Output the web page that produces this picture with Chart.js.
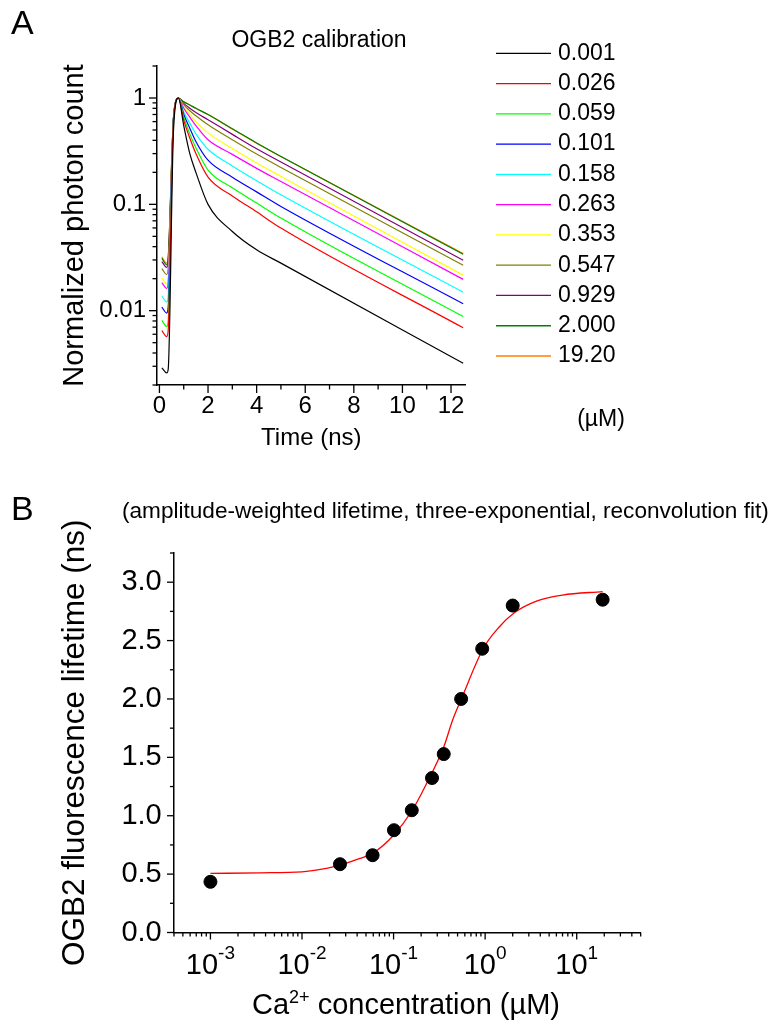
<!DOCTYPE html>
<html>
<head>
<meta charset="utf-8">
<script src="https://cdn.jsdelivr.net/npm/chart.js@4.4.0/dist/chart.umd.min.js"></script>
<style>
html, body { margin: 0; padding: 0; background: #fff; }
#wrap { position: relative; width: 771px; height: 1023px; overflow: hidden;
        font-family: "Liberation Sans", Arial, sans-serif; color: #000; }
canvas { position: absolute; left: 0; top: 0; }
.lbl { position: absolute; white-space: nowrap; line-height: 1; }
.c { transform: translate(-50%, -50%); }
.v { transform: translateY(-50%); }
</style>
</head>
<body>
<div id="wrap">
  <canvas id="chartA" width="771" height="1023"></canvas>
  <canvas id="chartB" width="771" height="1023"></canvas>
  <div class="lbl" style="left:11px;top:5px;font-size:34px">A</div>
  <div class="lbl c" style="left:319px;top:39px;font-size:23px">OGB2 calibration</div>
  <div class="lbl c" style="left:601px;top:418px;font-size:23px">(µM)</div>
  <div class="lbl" style="left:11px;top:491px;font-size:34px">B</div>
  <div class="lbl v" style="left:122px;top:511px;font-size:22.6px">(amplitude-weighted lifetime, three-exponential, reconvolution fit)</div>
  <div class="lbl c" style="left:406px;top:1004px;font-size:29px">Ca<span style="font-size:18px;position:relative;top:-11px">2+</span> concentration (µM)</div>
</div>
<script>
const FONT = '"Liberation Sans", Arial, sans-serif';

// ---- panel A: normalized decays, one array per Ca2+ concentration ----
const timeNs = [0.1, 0.3, 0.36, 0.58, 0.78, 1, 1.25, 1.5, 2, 3, 4, 5, 12.5];
const caLabels = ['0.001', '0.026', '0.059', '0.101', '0.158', '0.263', '0.353', '0.547', '0.929', '2.000', '19.20'];
const caColors = ['#000000', '#ff0000', '#00ff00', '#0000ff', '#00ffff', '#ff00ff',
                  '#ffff00', '#808000', '#800080', '#008000', '#ff8000'];

const d0001 = [0.0029, 0.0026, 0.0028, 0.50, 1, 0.55, 0.30, 0.20, 0.100, 0.0556, 0.0374, 0.0280, 0.0032];
const d0026 = [0.0065, 0.0057, 0.0065, 0.62, 1, 0.62, 0.42, 0.30, 0.180, 0.120, 0.085, 0.0598, 0.0069];
const d0059 = [0.0081, 0.0071, 0.0081, 0.64, 1, 0.66, 0.46, 0.34, 0.210, 0.143, 0.103, 0.0743, 0.0088];
const d0101 = [0.0108, 0.0095, 0.0108, 0.65, 1, 0.70, 0.52, 0.39, 0.260, 0.180, 0.131, 0.0955, 0.0116];
const d0158 = [0.0137, 0.0121, 0.0137, 0.65, 1, 0.74, 0.58, 0.46, 0.330, 0.230, 0.167, 0.123, 0.0149];
const d0263 = [0.0184, 0.0162, 0.0184, 0.65, 1, 0.80, 0.66, 0.55, 0.405, 0.295, 0.218, 0.164, 0.0197];
const d0353 = [0.0203, 0.0179, 0.0203, 0.65, 1, 0.82, 0.70, 0.60, 0.470, 0.335, 0.245, 0.183, 0.0216];
const d0547 = [0.0249, 0.0219, 0.0249, 0.65, 1, 0.86, 0.76, 0.68, 0.560, 0.405, 0.297, 0.222, 0.0267];
const d0929 = [0.0290, 0.0255, 0.0290, 0.65, 1, 0.89, 0.80, 0.73, 0.625, 0.455, 0.333, 0.250, 0.0298];
const d2000 = [0.0310, 0.0270, 0.0310, 0.65, 1, 0.92, 0.86, 0.80, 0.700, 0.515, 0.378, 0.282, 0.0339];
const d1920 = [0.0320, 0.0280, 0.0320, 0.65, 1, 0.92, 0.86, 0.80, 0.700, 0.510, 0.375, 0.282, 0.0344];
const decays = [d0001, d0026, d0059, d0101, d0158, d0263, d0353, d0547, d0929, d2000, d1920];

const timeTicks = [0, 1, 2, 3, 4, 5, 6, 7, 8, 9, 10, 11, 12];
const decayTicks = [];
[0.001, 0.01, 0.1, 1].forEach(dec => {
    for (let k = 1; k <= 9; k++) {
        const v = +(k * dec).toPrecision(3);
        if (v >= 0.002 && v <= 2) decayTicks.push({value: v, mj: k === 1});
    }
});

// ---- panel B: lifetime vs Ca2+ ----
const caConc   = [0.001, 0.026, 0.059, 0.101, 0.158, 0.263, 0.353, 0.547, 0.929, 2.0, 19.2];
const lifetime = [0.434, 0.585, 0.662, 0.876, 1.047, 1.323, 1.528, 2.00, 2.43, 2.80, 2.85];
const fitConc     = [0.001, 0.0035, 0.01, 0.0185, 0.026, 0.043, 0.06, 0.1, 0.16, 0.229, 0.353, 0.44, 0.55, 0.95, 1.4, 2.1, 3.7, 7, 19.2];
const fitLifetime = [0.506, 0.511, 0.520, 0.549, 0.577, 0.634, 0.682, 0.833, 1.047, 1.275, 1.588, 1.816, 2.0, 2.43, 2.61, 2.74, 2.84, 2.89, 2.92];
const concDecades = [-3, -2, -1, 0, 1];
const lifeTicks = [0, 0.25, 0.5, 0.75, 1, 1.25, 1.5, 1.75, 2, 2.25, 2.5, 2.75, 3, 3.25];

const concTicks = [];
[-4, -3, -2, -1, 0, 1].forEach(e => {
    for (let k = 1; k <= 9; k++) {
        const v = +(k * Math.pow(10, e)).toPrecision(3);
        if (v >= 4e-4 && v <= 50) concTicks.push({value: v, mj: k === 1});
    }
});

// outward tick marks, long for labelled ticks, short for the rest
const tickMarks = {
    id: 'tickMarks',
    afterDraw(chart, args, opts) {
        const ctx = chart.ctx;
        ctx.save();
        ctx.strokeStyle = '#000';
        ctx.lineWidth = 1.3;
        ['x', 'y'].forEach(id => {
            const sc = chart.scales[id];
            sc.ticks.forEach(t => {
                const len = t.mj ? opts.major : opts.minor;
                const p = sc.getPixelForValue(t.value);
                ctx.beginPath();
                if (id === 'x') { ctx.moveTo(p, sc.top); ctx.lineTo(p, sc.top + len); }
                else { ctx.moveTo(sc.right, p); ctx.lineTo(sc.right - len, p); }
                ctx.stroke();
            });
        });
        ctx.restore();
    }
};

const decayLegend = {
    id: 'decayLegend',
    afterDraw(chart, args, opts) {
        const ctx = chart.ctx;
        ctx.save();
        ctx.font = '23px ' + FONT;
        ctx.textBaseline = 'middle';
        ctx.fillStyle = '#000';
        chart.data.datasets.forEach((ds, i) => {
            const y = opts.y0 + i * opts.dy;
            ctx.strokeStyle = ds.borderColor;
            ctx.lineWidth = 1.3;
            ctx.beginPath();
            ctx.moveTo(opts.x0, y);
            ctx.lineTo(opts.x1, y);
            ctx.stroke();
            ctx.fillText(ds.label, opts.tx, y);
        });
        ctx.restore();
    }
};

const powerLabels = {
    id: 'powerLabels',
    afterDraw(chart, args, opts) {
        const ctx = chart.ctx;
        const xs = chart.scales.x;
        ctx.save();
        ctx.fillStyle = '#000';
        ctx.textBaseline = 'middle';
        concDecades.forEach(e => {
            const p = xs.getPixelForValue(Math.pow(10, e));
            ctx.font = '29px ' + FONT;
            const wb = ctx.measureText('10').width;
            ctx.font = '19px ' + FONT;
            const we = ctx.measureText(String(e)).width;
            const left = p - (wb + we) / 2;
            ctx.font = '29px ' + FONT;
            ctx.fillText('10', left, opts.y);
            ctx.font = '19px ' + FONT;
            ctx.fillText(String(e), left + wb, opts.y - 12);
        });
        ctx.restore();
    }
};

const axisStyle = {
    grid: { display: false, drawTicks: false },
    border: { display: true, color: '#000', width: 1.5 }
};

new Chart(document.getElementById('chartA'), {
    type: 'line',
    data: {
        datasets: decays.map((arr, k) => ({
            label: caLabels[k],
            data: timeNs.map((t, i) => ({x: t, y: arr[i]})),
            borderColor: caColors[k],
            borderWidth: 1.2,
            pointRadius: 0,
            fill: false,
            cubicInterpolationMode: 'monotone'
        }))
    },
    options: {
        responsive: false,
        animation: false,
        devicePixelRatio: 1,
        layout: { padding: { left: 0, top: 66, right: 305.4, bottom: 568 } },
        plugins: {
            legend: { display: false },
            tooltip: { enabled: false },
            tickMarks: { major: 8, minor: 4.5 },
            decayLegend: { x0: 496, x1: 551, tx: 558, y0: 53.3, dy: 30.27 }
        },
        scales: {
            x: {
                type: 'linear', min: -0.1, max: 12.6,
                afterFit: s => { s.height = 70; },
                afterBuildTicks: s => { s.ticks = timeTicks.map(v => ({value: v, mj: v % 2 === 0})); },
                ticks: {
                    autoSkip: false, maxRotation: 0, padding: 6.6, color: '#000',
                    font: { family: FONT, size: 24 },
                    callback: (v, i, t) => t[i].mj ? String(v) : ''
                },
                title: { display: true, text: 'Time (ns)', color: '#000',
                         font: { family: FONT, size: 24 }, padding: { top: 0, bottom: 2.6 } },
                ...axisStyle
            },
            y: {
                type: 'logarithmic', min: 0.002, max: 2,
                afterFit: s => { s.width = 157; },
                afterBuildTicks: s => { s.ticks = decayTicks.map(t => ({...t})); },
                ticks: {
                    autoSkip: false, padding: 11, color: '#000',
                    font: { family: FONT, size: 24 },
                    callback: (v, i, t) => t[i].mj ? String(v) : ''
                },
                title: { display: true, text: 'Normalized photon count', color: '#000',
                         font: { family: FONT, size: 29 }, padding: { top: 57.6, bottom: 0 } },
                ...axisStyle
            }
        }
    },
    plugins: [tickMarks, decayLegend]
});

new Chart(document.getElementById('chartB'), {
    type: 'scatter',
    data: {
        datasets: [
            {
                type: 'line',
                data: fitConc.map((c, i) => ({x: c, y: fitLifetime[i]})),
                borderColor: '#ff0000',
                borderWidth: 1.3,
                pointRadius: 0,
                fill: false,
                cubicInterpolationMode: 'monotone',
                order: 1
            },
            {
                data: caConc.map((c, i) => ({x: c, y: lifetime[i]})),
                backgroundColor: '#000',
                borderColor: '#000',
                pointRadius: 6.5,
                order: 0
            }
        ]
    },
    options: {
        responsive: false,
        animation: false,
        devicePixelRatio: 1,
        layout: { padding: { left: 0, top: 553, right: 130.3, bottom: 5.5 } },
        plugins: {
            legend: { display: false },
            tooltip: { enabled: false },
            tickMarks: { major: 7, minor: 4 },
            powerLabels: { y: 966 }
        },
        scales: {
            x: {
                type: 'logarithmic', min: 4e-4, max: 50,
                afterFit: s => { s.height = 85; },
                afterBuildTicks: s => { s.ticks = concTicks.map(t => ({...t})); },
                ticks: { autoSkip: false, maxRotation: 0, callback: () => '' },
                ...axisStyle
            },
            y: {
                type: 'linear', min: 0, max: 3.25,
                afterFit: s => { s.width = 174; },
                afterBuildTicks: s => { s.ticks = lifeTicks.map(v => ({value: v, mj: (v * 2) % 1 === 0})); },
                ticks: {
                    autoSkip: false, padding: 12.3, color: '#000',
                    font: { family: FONT, size: 29 },
                    callback: (v, i, t) => t[i].mj ? v.toFixed(1) : ''
                },
                title: { display: true, text: 'OGB2 fluorescence lifetime (ns)', color: '#000',
                         font: { family: FONT, size: 31.5 }, padding: { top: 56, bottom: 0 } },
                ...axisStyle
            }
        }
    },
    plugins: [tickMarks, powerLabels]
});
</script>
</body>
</html>
